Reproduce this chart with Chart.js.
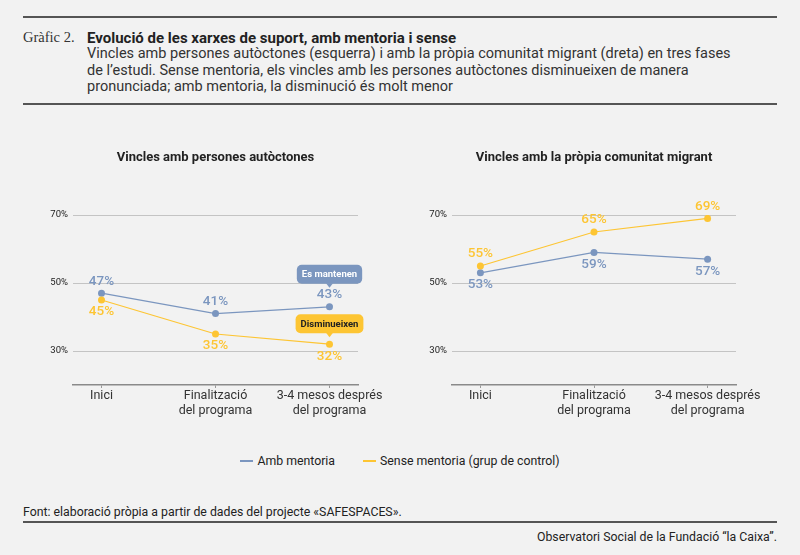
<!DOCTYPE html>
<html>
<head>
<meta charset="utf-8">
<script src="https://cdn.jsdelivr.net/npm/chart.js@4.4.0/dist/chart.umd.min.js"></script>
<style>
  html, body { margin: 0; padding: 0; }
  body { width: 800px; height: 555px; background: #f2f2f2; position: relative; overflow: hidden; font-family: Roboto, "Liberation Sans", sans-serif; color: #222; }
  .rule { position: absolute; left: 23px; width: 754px; background: #555; }
  .abs { position: absolute; white-space: nowrap; }
  #lbl { left: 23px; top: 29px; font-family: "Liberation Serif", serif; font-size: 14.5px; color: #333; }
  #ttl { left: 87px; top: 29px; font-size: 15px; font-weight: 700; color: #222; letter-spacing: 0px; }
  #sub { left: 87px; top: 46px; font-size: 14.5px; line-height: 16.7px; color: #333; }
  .cwrap { position: absolute; top: 130px; width: 400px; height: 300px; }
  #legend { position: absolute; left: 0; width: 800px; top: 454px; display: flex; justify-content: center; font-size: 12.3px; color: #222; }
  .li { display: flex; align-items: center; margin: 0 14px; }
  .sw { width: 13px; height: 2.5px; margin-right: 4px; }
  #src { left: 23px; top: 505px; font-size: 12.3px; color: #222; }
  #org { right: 23px; top: 530px; font-size: 12.3px; color: #222; }
</style>
</head>
<body>
<div class="rule" style="top:16px;height:2px"></div>
<div id="lbl" class="abs">Gràfic 2.</div>
<div id="ttl" class="abs">Evolució de les xarxes de suport, amb mentoria i sense</div>
<div id="sub" class="abs">Vincles amb persones autòctones (esquerra) i amb la pròpia comunitat migrant (dreta) en tres fases<br>de l’estudi. Sense mentoria, els vincles amb les persones autòctones disminueixen de manera<br>pronunciada; amb mentoria, la disminució és molt menor</div>
<div class="rule" style="top:103px;height:2px"></div>

<div class="cwrap" style="left:0px"><canvas id="c1" width="400" height="300"></canvas></div>
<div class="cwrap" style="left:400px"><canvas id="c2" width="400" height="300"></canvas></div>

<div id="legend">
  <div class="li"><div class="sw" style="background:#7b96bf"></div>Amb mentoria</div>
  <div class="li"><div class="sw" style="background:#fdc533"></div>Sense mentoria (grup de control)</div>
</div>

<div id="src" class="abs">Font: elaboració pròpia a partir de dades del projecte «SAFESPACES».</div>
<div class="rule" style="top:521px;height:1.5px"></div>
<div id="org" class="abs">Observatori Social de la Fundació “la Caixa”.</div>

<script>
// ---- data ----
const categories = [["Inici"], ["Finalització", "del programa"], ["3-4 mesos després", "del programa"]];
const seriesNames = ["Amb mentoria", "Sense mentoria (grup de control)"];
const autoctonesMentoria = [47, 41, 43];
const autoctonesControl = [45, 35, 32];
const migrantMentoria = [53, 59, 57];
const migrantControl = [55, 65, 69];
const yTicks = [30, 50, 70];
const chartTitles = ["Vincles amb persones autòctones", "Vincles amb la pròpia comunitat migrant"];
const calloutsLeft = [
  { series: 0, index: 2, text: "Es mantenen" },
  { series: 1, index: 2, text: "Disminueixen" }
];

const BLUE = "#7b96bf", YELLOW = "#fdc533";
const FONT = "Roboto, 'Liberation Sans', sans-serif";

function drawCallouts(chart, callouts) {
  const ctx = chart.ctx;
  ctx.save();
  callouts.forEach(c => {
    const meta = chart.getDatasetMeta(c.series);
    const pt = meta.data[c.index];
    const ds = chart.data.datasets[c.series];
    const bottom = c.series === 0 ? pt.y - 23 : pt.y - 11;
    const h = 19;
    ctx.font = "700 9.5px " + FONT;
    const w = Math.max(65, ctx.measureText(c.text).width + 10);
    const x0 = pt.x - w / 2, y0 = bottom - h;
    ctx.fillStyle = ds.borderColor;
    ctx.beginPath();
    if (ctx.roundRect) ctx.roundRect(x0, y0, w, h, 5); else ctx.rect(x0, y0, w, h);
    ctx.fill();
    ctx.beginPath();
    ctx.moveTo(pt.x - 3.5, bottom - 0.5);
    ctx.lineTo(pt.x + 3.5, bottom - 0.5);
    ctx.lineTo(pt.x, bottom + 4);
    ctx.closePath();
    ctx.fill();
    ctx.fillStyle = c.series === 0 ? "#ffffff" : "#222222";
    ctx.textAlign = "center";
    ctx.textBaseline = "middle";
    ctx.fillText(c.text, pt.x, y0 + h / 2 + 0.5);
  });
  ctx.restore();
}

const labelsPlugin = {
  id: "valLabels",
  afterDatasetsDraw(chart, args, opts) {
    const ctx = chart.ctx;
    ctx.save();
    ctx.font = "500 13.5px " + FONT;
    ctx.textAlign = "center";
    ctx.textBaseline = "middle";
    chart.data.datasets.forEach((ds, di) => {
      const meta = chart.getDatasetMeta(di);
      const dir = opts.positions[di] === "above" ? -1 : 1;
      meta.data.forEach((pt, i) => {
        ctx.fillStyle = ds.borderColor;
        ctx.fillText(ds.raw[i] + "%", pt.x, pt.y + dir * 12);
      });
    });
    ctx.restore();
    drawCallouts(chart, opts.callouts || []);
  }
};

function makeChart(id, title, blueData, yellowData, positions, yWidth, padRight, callouts) {
  return new Chart(document.getElementById(id), {
    type: "line",
    data: {
      datasets: [
        { label: seriesNames[0], raw: blueData, borderColor: BLUE, backgroundColor: BLUE, pointBackgroundColor: BLUE, pointBorderWidth: 0, pointRadius: 3.5, borderWidth: 1.2, order: 1, tension: 0 },
        { label: seriesNames[1], raw: yellowData, borderColor: YELLOW, backgroundColor: YELLOW, pointBackgroundColor: YELLOW, pointBorderWidth: 0, pointRadius: 3.5, borderWidth: 1.2, order: 0, tension: 0 }
      ].map(d => ({ ...d, data: d.raw.map((v, i) => ({ x: i, y: v })) }))
    },
    options: {
      responsive: false,
      animation: false,
      devicePixelRatio: 1,
      layout: { padding: { left: 0, right: padRight, top: 0, bottom: 0 } },
      plugins: {
        legend: { display: false },
        tooltip: { enabled: false },
        title: {
          display: true, text: title, fullSize: false,
          font: { family: FONT, size: 13, weight: "700" }, color: "#222",
          padding: { top: 20, bottom: 49.4 }
        },
        valLabels: { positions, callouts }
      },
      scales: {
        x: {
          type: "linear", min: -0.25, max: 2.25,
          afterBuildTicks: s => { s.ticks = [0, 1, 2].map(v => ({ value: v })); },
          afterFit: s => { s.height = 45; },
          grid: { drawOnChartArea: false, drawTicks: true, tickLength: 3, color: "#999", lineWidth: 1 },
          border: { display: true, color: "#8a8a8a", width: 1.5 },
          ticks: { callback: v => categories[v], font: { family: FONT, size: 12.5, lineHeight: 1.2 }, color: "#333", padding: 0, maxRotation: 0, autoSkip: false }
        },
        y: {
          min: 20, max: 70,
          afterBuildTicks: s => { s.ticks = yTicks.map(v => ({ value: v })); },
          afterFit: s => { s.width = yWidth; },
          grid: { color: "#c4c4c4", lineWidth: 1, drawTicks: false },
          border: { display: false },
          ticks: { callback: v => v + "%", font: { family: FONT, size: 9.5 }, color: "#222", padding: 5 }
        }
      }
    },
    plugins: [labelsPlugin]
  });
}

makeChart("c1", chartTitles[0], autoctonesMentoria, autoctonesControl, ["above", "below"], 73, 42, calloutsLeft);
makeChart("c2", chartTitles[1], migrantMentoria, migrantControl, ["below", "above"], 52, 64, []);
</script>
</body>
</html>
